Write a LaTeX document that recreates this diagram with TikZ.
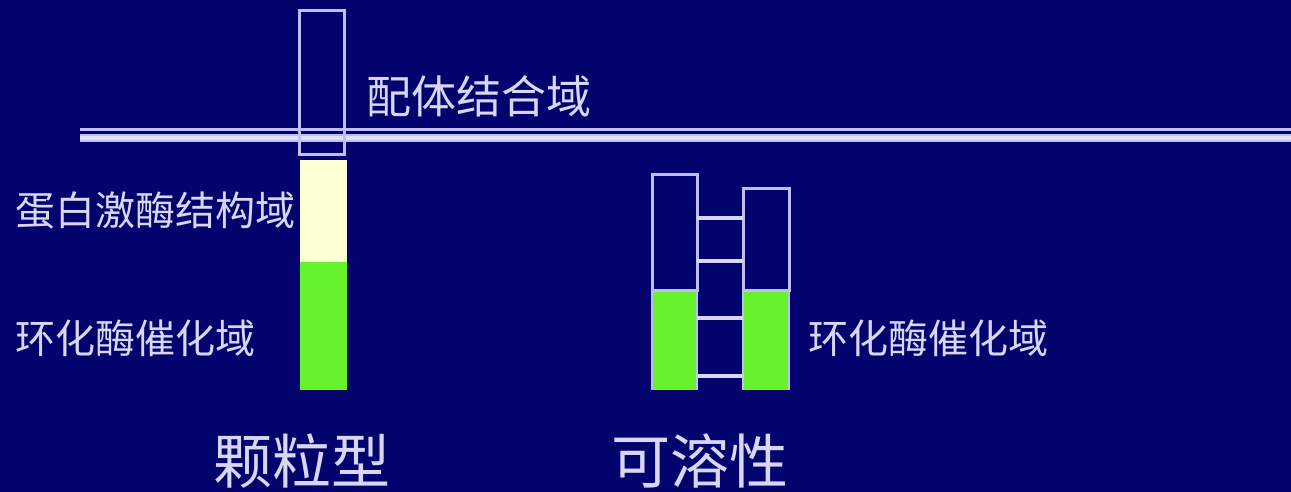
\documentclass[tikz,border=0pt]{standalone}
\usepackage{fontspec}
\newfontfamily\cjk{Noto Sans CJK SC}
\definecolor{bg}{RGB}{3,3,110}
\definecolor{lav}{RGB}{190,190,240}
\definecolor{txt}{RGB}{215,215,245}
\definecolor{cream}{RGB}{255,255,212}
\definecolor{grn}{RGB}{102,242,44}
\tikzset{
  lbl/.style={anchor=west, inner sep=0pt, text=txt, font=\cjk\fontsize{40}{44}\selectfont},
  big/.style={anchor=west, inner sep=0pt, text=txt, font=\cjk\fontsize{59}{62}\selectfont},
  outline/.style={draw=lav, line width=3pt},
  rung/.style={draw=txt, line width=4.5pt}
}
\begin{document}
\begin{tikzpicture}[x=1pt,y=-1pt]
\useasboundingbox (0,0) rectangle (1291,492);
\fill[bg] (0,0) rectangle (1291,492);
% membrane
\draw[lav, line width=3.5pt] (80,129.5) -- (1291,129.5);
\draw[lav, line width=8pt] (80,138) -- (1291,138);
\draw[txt!80!white, line width=4pt] (80,138) -- (1291,138);
% particulate receptor
\fill[cream] (300,160) rectangle (347,262);
\fill[grn] (300,262) rectangle (347,390);
\draw[outline] (299,11) rectangle (344,155);
% soluble
\fill[grn] (652,290) rectangle (697,390);
\fill[grn] (743,290) rectangle (789,390);
\draw[outline] (652,175) rectangle (697,290);
\draw[outline] (743,189) rectangle (789,290);
\draw[lav, line width=1.5pt] (652,290) -- (652,390) (697,290) -- (697,390) (743,290) -- (743,390) (789,290) -- (789,390);
\foreach \y/\n in {218/a,261/b,318/c,376/d}{
  \coordinate (L\n) at (697,\y);
  \coordinate (R\n) at (743,\y);
  \draw[rung] (L\n) -- (R\n);
}
% labels
\node[lbl, font=\cjk\fontsize{45}{48}\selectfont] (lig) at (366,96) {配体结合域};
\node[lbl] (pk) at (15,210) {蛋白激酶结构域};
\node[lbl] (cyc1) at (15,338) {环化酶催化域};
\node[lbl] (cyc2) at (808,338) {环化酶催化域};
\node[big] (part) at (213,461) {颗粒型};
\node[big] (sol) at (611,461) {可溶性};
\end{tikzpicture}
\end{document}
